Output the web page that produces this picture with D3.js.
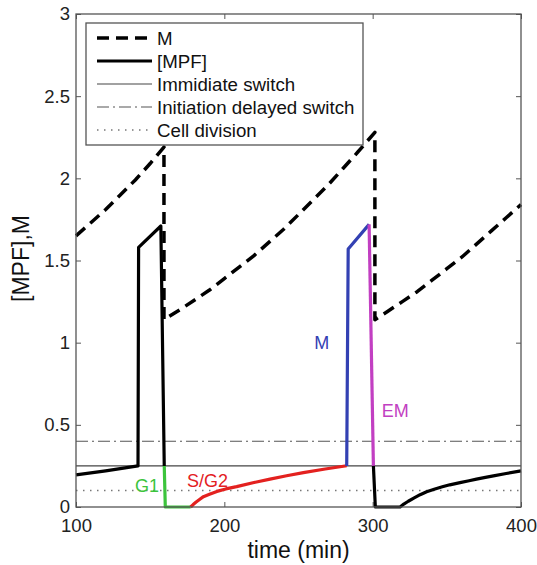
<!DOCTYPE html>
<html>
<head>
<meta charset="utf-8">
<script src="https://cdn.jsdelivr.net/npm/d3@7"></script>
<style>
  body { margin: 0; background: #fff; }
  text { font-family: "Liberation Sans", Arial, Helvetica, sans-serif; }
</style>
</head>
<body>
<div id="chart"></div>
<script>
// data
var xTicks = [100, 200, 300, 400];
var yTicks = [0, 0.5, 1, 1.5, 2, 2.5, 3];

// M (dashed), one continuous line incl. the two drops
var mTime = [100, 110, 120, 130, 140, 150, 159.3, 159.3, 170, 180, 190, 200, 210, 220, 230, 240, 250, 260, 270, 280, 290, 301.5,
             301.5, 310, 320, 330, 340, 350, 360, 370, 380, 390, 400];
var mVal  = [1.65, 1.73, 1.81, 1.90, 1.99, 2.09, 2.19, 1.14, 1.20, 1.26, 1.32, 1.39, 1.46, 1.53, 1.61, 1.69, 1.78, 1.87, 1.96, 2.06, 2.16, 2.28,
             1.14, 1.19, 1.25, 1.31, 1.38, 1.45, 1.52, 1.60, 1.68, 1.76, 1.84];

// [MPF] pieces
var mpfA_t = [100, 120, 141.8, 142.2, 157.2, 159.5];
var mpfA_v = [0.195, 0.22, 0.25, 1.58, 1.71, 0.25];
var g1_t = [159.5, 160.2, 177.3];
var g1_v = [0.25, 0.0, 0.0];
var sg2_t = [177.3, 179, 181, 183.5, 185.9, 190, 195, 201, 208.3, 220, 230.8, 242, 253.3, 268, 282.5];
var sg2_v = [0.0, 0.015, 0.03, 0.047, 0.063, 0.078, 0.095, 0.11, 0.124, 0.149, 0.17, 0.19, 0.209, 0.231, 0.251];
var mPhase_t = [282.5, 283.5, 297.6];
var mPhase_v = [0.25, 1.57, 1.72];
var em_t = [297.6, 300.5];
var em_v = [1.72, 0.25];
var mpfB_t = [300.5, 301.8, 318.5, 321, 324, 328, 332, 336.4, 342, 347, 352, 358.9, 365, 370, 376, 381.4, 390, 400];
var mpfB_v = [0.25, 0.0, 0.0, 0.018, 0.035, 0.055, 0.075, 0.093, 0.11, 0.123, 0.135, 0.148, 0.16, 0.17, 0.18, 0.189, 0.204, 0.22];

// thresholds
var immediateSwitch = 0.25;
var delayedSwitch = 0.4;
var cellDivision = 0.1;

var legendNames = ["M", "[MPF]", "Immidiate switch", "Initiation delayed switch", "Cell division"];
var phaseNames = ["G1", "S/G2", "M", "EM"];

function pairs(t, v) { return t.map(function(d, i) { return [d, v[i]]; }); }

var W = 537, H = 565;
var margin = {top: 14, right: 16, bottom: 58, left: 76},
    width = W - margin.left - margin.right,
    height = H - margin.top - margin.bottom;

var svg = d3.select("#chart").append("svg")
  .attr("width", W).attr("height", H)
  .append("g")
  .attr("transform", "translate(" + margin.left + "," + margin.top + ")");

var x = d3.scaleLinear().domain([100, 400]).range([0, width]);
var y = d3.scaleLinear().domain([0, 3]).range([height, 0]);

var axisColor = "#555";

// axes, ticks pointing inwards like matlab
function styleAxis(g) {
  g.select(".domain").remove();
  g.selectAll(".tick line").attr("stroke", axisColor).attr("stroke-width", 1);
  g.selectAll(".tick text").attr("fill", "#222").style("font-size", "18.5px")
    .style("font-family", "'Liberation Sans', Arial, sans-serif");
}
svg.append("g").attr("transform", "translate(0," + height + ")")
  .call(d3.axisBottom(x).tickValues(xTicks).tickSize(-5).tickPadding(12)).call(styleAxis);
svg.append("g")
  .call(d3.axisTop(x).tickValues(xTicks).tickSize(-5).tickFormat("")).call(styleAxis);
svg.append("g")
  .call(d3.axisLeft(y).tickValues(yTicks).tickSize(-5).tickPadding(6).tickFormat(function(d) { return d; })).call(styleAxis);
svg.append("g").attr("transform", "translate(" + width + ",0)")
  .call(d3.axisRight(y).tickValues(yTicks).tickSize(-5).tickFormat("")).call(styleAxis);

// threshold lines
function hline(v, dash, color, w) {
  svg.append("line")
    .attr("x1", 0).attr("x2", width)
    .attr("y1", y(v)).attr("y2", y(v))
    .attr("stroke", color).attr("stroke-width", w)
    .attr("stroke-dasharray", dash);
}
hline(immediateSwitch, null, "#444", 1.2);
hline(delayedSwitch, "12,4,2,4", "#555", 1.2);
hline(cellDivision, "1.5,5.5", "#777", 1.5);

var line = d3.line().x(function(d) { return x(d[0]); }).y(function(d) { return y(d[1]); });

function curve(t, v, color, w, dash) {
  svg.append("path")
    .datum(pairs(t, v))
    .attr("d", line)
    .attr("fill", "none")
    .attr("stroke", color)
    .attr("stroke-width", w)
    .attr("stroke-linejoin", "round")
    .attr("stroke-dasharray", dash);
}

curve(mpfA_t, mpfA_v, "#000", 3.2);
curve(g1_t, g1_v, "#3cc43c", 3.2);
curve(sg2_t, sg2_v, "#e3211f", 3.2);
curve(mPhase_t, mPhase_v, "#3341b3", 3.2);
curve(em_t, em_v, "#c23fc2", 3.2);
curve(mpfB_t, mpfB_v, "#000", 3.2);
curve(mTime, mVal, "#000", 3.5, "12,7");

// phase annotations
var phaseColors = ["#3cc43c", "#e3211f", "#3341b3", "#c23fc2"];
var phasePos = [[139.8, 0.093], [174.8, 0.12], [260.7, 0.96], [306.1, 0.55]];
phaseNames.forEach(function(n, i) {
  svg.append("text")
    .attr("x", x(phasePos[i][0])).attr("y", y(phasePos[i][1]))
    .attr("fill", phaseColors[i])
    .style("font-size", "18px")
    .text(n);
});

// frame
svg.append("rect")
  .attr("width", width).attr("height", height)
  .attr("fill", "none").attr("stroke", axisColor).attr("stroke-width", 1.3);

// legend
var lg = svg.append("g").attr("transform", "translate(10,9)");
lg.append("rect")
  .attr("width", 277).attr("height", 122)
  .attr("fill", "#fff").attr("stroke", axisColor).attr("stroke-width", 1.3);
var legendStyle = [
  {color: "#000", w: 3.5, dash: "12,7"},
  {color: "#000", w: 3.2, dash: null},
  {color: "#444", w: 1.2, dash: null},
  {color: "#555", w: 1.2, dash: "12,4,2,4"},
  {color: "#777", w: 1.5, dash: "1.5,5.5"}
];
legendNames.forEach(function(n, i) {
  var yy = 15 + i * 23;
  lg.append("line")
    .attr("x1", 11).attr("x2", 66).attr("y1", yy).attr("y2", yy)
    .attr("stroke", legendStyle[i].color)
    .attr("stroke-width", legendStyle[i].w)
    .attr("stroke-dasharray", legendStyle[i].dash);
  lg.append("text")
    .attr("x", 71).attr("y", yy).attr("dy", "0.35em")
    .attr("fill", "#111")
    .style("font-size", "18.7px")
    .text(n);
});

// axis labels
svg.append("text")
  .attr("x", width / 2).attr("y", height + 51)
  .attr("text-anchor", "middle")
  .style("font-size", "23px").attr("fill", "#111")
  .text("time (min)");
svg.append("text")
  .attr("transform", "translate(-47," + (height / 2 - 2) + ") rotate(-90)")
  .attr("text-anchor", "middle")
  .style("font-size", "23px").attr("fill", "#111")
  .text("[MPF],M");
</script>
</body>
</html>
